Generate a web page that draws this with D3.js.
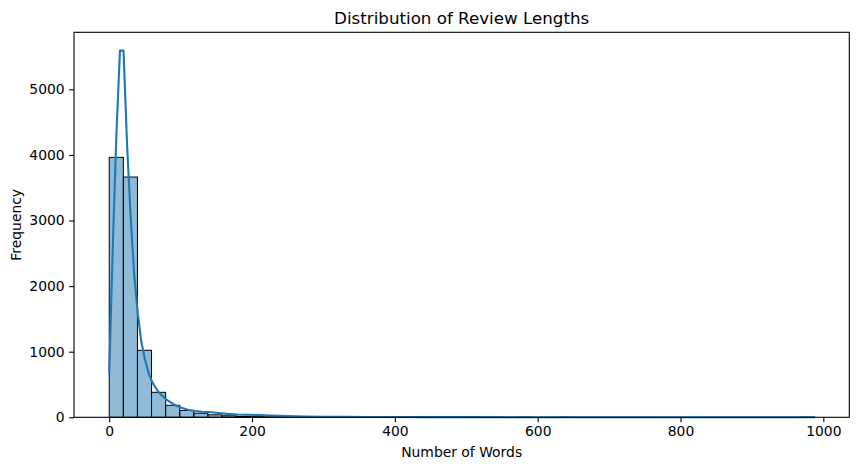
<!DOCTYPE html>
<html>
<head>
<meta charset="utf-8">
<script src="https://cdn.jsdelivr.net/npm/d3@7"></script>
<style>
  body { margin: 0; background: #fff; }
  svg { display: block; }
  text { font-family: "DejaVu Sans", sans-serif; fill: #000; }
</style>
</head>
<body>
<svg id="chart" width="859" height="470"></svg>
<script>
// ---- data ----
const binStart = 0;
const binEnd = 987;
const binCounts = [3963, 3663, 1021, 381, 183, 104, 62, 38, 23, 15,
                   11, 8, 6, 5, 4, 3, 3, 2, 2, 2,
                   1, 1, 1, 1, 1, 1, 0, 1, 0, 1,
                   0, 0, 1, 0, 0, 0, 0, 0, 0, 0,
                   0, 0, 0, 0, 0, 0, 0, 0, 0, 1];
const kdeX = [0, 5, 10, 15, 20, 25, 30, 35, 40, 45, 50, 55, 60, 65, 70, 80, 90, 100, 110, 120,
              130, 140, 150, 165, 180, 195, 210, 225, 250, 275, 300, 330, 360, 400, 450, 500,
              600, 700, 800, 900, 987];
const kdeY = [690, 2620, 4300, 5590, 5590, 4150, 3060, 2170, 1580, 1150, 880, 680, 540, 450, 370, 270, 200, 150, 115, 95,
              85, 80, 70, 52, 42, 38, 33, 28, 18, 12, 9, 7, 5, 4, 3, 2,
              1.5, 1, 1, 1, 1];
const xTicks = [0, 200, 400, 600, 800, 1000];
const yTicks = [0, 1000, 2000, 3000, 4000, 5000];
const titleText = "Distribution of Review Lengths";
const xLabelText = "Number of Words";
const yLabelText = "Frequency";

// ---- layout ----
const svg = d3.select("#chart");
const L = 74, R = 849.3, T = 32.3, B = 417.3;
const span = binEnd - binStart;
const x = d3.scaleLinear().domain([binStart - 0.05 * span, binEnd + 0.05 * span]).range([L, R]);
const yMax = d3.max(kdeY) * 1.05;
const y = d3.scaleLinear().domain([0, yMax]).range([B, T]);

const binW = span / binCounts.length;
const bins = binCounts.map((c, i) => ({ x0: binStart + i * binW, x1: binStart + (i + 1) * binW, c }));

// bars
svg.append("g").selectAll("rect").data(bins.filter(d => d.c > 0)).join("rect")
  .attr("x", d => x(d.x0))
  .attr("width", d => x(d.x1) - x(d.x0))
  .attr("y", d => y(d.c))
  .attr("height", d => y(0) - y(d.c))
  .attr("fill", "rgba(31,119,180,0.5)")
  .attr("stroke", "#000")
  .attr("stroke-width", 1);

// kde line
const kde = kdeX.map((v, i) => [v, kdeY[i]]);
svg.append("path").datum(kde)
  .attr("d", d3.line().x(d => x(d[0])).y(d => y(d[1])))
  .attr("fill", "none")
  .attr("stroke", "#1f77b4")
  .attr("stroke-width", 2.1)
  .attr("stroke-linejoin", "round")
  .attr("stroke-linecap", "square");

// axes
const xAxis = d3.axisBottom(x).tickValues(xTicks).tickSize(4.9).tickPadding(4.2).tickFormat(d3.format("d"));
const gx = svg.append("g").attr("transform", `translate(0,${B})`).call(xAxis);
const yAxis = d3.axisLeft(y).tickValues(yTicks).tickSize(4.9).tickPadding(4.4).tickFormat(d3.format("d"));
const gy = svg.append("g").attr("transform", `translate(${L},0)`).call(yAxis);
[gx, gy].forEach(g => {
  g.select(".domain").remove();
  g.selectAll(".tick line").attr("stroke", "#000").attr("stroke-width", 1.1);
  g.selectAll(".tick text").attr("font-size", "13.9px").attr("font-family", "DejaVu Sans").attr("fill", "#000");
});

// spines
svg.append("rect").attr("x", L).attr("y", T).attr("width", R - L).attr("height", B - T)
  .attr("fill", "none").attr("stroke", "#000").attr("stroke-width", 1.1);

// labels
svg.append("text").attr("x", (L + R) / 2).attr("y", 24).attr("text-anchor", "middle")
  .attr("font-size", "16.7px").text(titleText);
svg.append("text").attr("x", (L + R) / 2).attr("y", 457).attr("text-anchor", "middle")
  .attr("font-size", "13.9px").text(xLabelText);
svg.append("text").attr("transform", `translate(21,${(T + B) / 2}) rotate(-90)`).attr("text-anchor", "middle")
  .attr("font-size", "13.9px").text(yLabelText);
</script>
</body>
</html>
